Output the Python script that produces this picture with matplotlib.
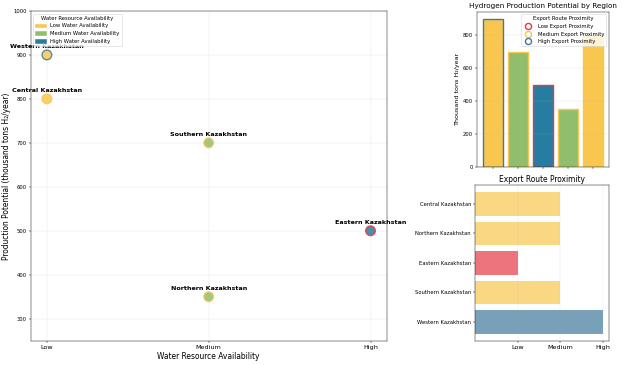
"""Kazakhstan hydrogen potential: water vs production, bars, export proximity."""
import matplotlib
matplotlib.use("Agg")
import matplotlib.pyplot as plt
from matplotlib.lines import Line2D
from matplotlib.patches import Patch

regions = ["Western Kazakhstan", "Southern Kazakhstan", "Eastern Kazakhstan",
           "Northern Kazakhstan", "Central Kazakhstan"]
production = [900, 700, 500, 350, 800]          # thousand tons H2/year
water = ["Low", "Medium", "High", "Medium", "Low"]
export = ["High", "Medium", "Low", "Medium", "Medium"]

levels = ["Low", "Medium", "High"]
_WATER_C = {"Low": "#F9C74F", "Medium": "#90BE6D", "High": "#277DA1"}
_EXPORT_C = {"Low": "#E63946", "Medium": "#F9C74F", "High": "#3F7A9C"}

DPI = 40
fig = plt.figure(figsize=(623 / DPI, 365 / DPI), dpi=DPI)

# --- main scatter: water availability vs production ----------------------
ax = fig.add_axes([0.0493, 0.0666, 0.5714, 0.9034])
wx = [levels.index(w) for w in water]
ax.scatter(wx, production, s=300, c=[_WATER_C[w] for w in water],
           edgecolors=[_EXPORT_C[e] for e in export], linewidths=2.5,
           alpha=0.85, zorder=3)
for name, x, y in zip(regions, wx, production):
    ax.annotate(name, (x, y), xytext=(0, 10), textcoords="offset points",
                ha="center", va="bottom", fontsize=11.5, fontweight="bold",
                annotation_clip=False, zorder=4)
ax.set_xlim(-0.1, 2.1)
ax.set_ylim(250, 1000)
ax.set_xticks(range(3))
ax.set_xticklabels(levels, fontsize=11.5)
ax.tick_params(axis="y", labelsize=9.5)
ax.set_xlabel("Water Resource Availability", fontsize=13.5)
ax.set_ylabel("Production Potential (thousand tons H₂/year)", fontsize=13.5)
ax.grid(True, alpha=0.3)
handles = [Patch(color=_WATER_C[l], label=f"{l} Water Availability") for l in levels]
leg = ax.legend(handles=handles, title="Water Resource Availability", loc="upper left",
                fontsize=9.5, title_fontsize=9.5)
leg.set_zorder(5)

# --- top right: production bars ----------------------------------------
ax2 = fig.add_axes([0.7652, 0.5433, 0.2123, 0.4247])
ax2.bar(range(len(regions)), production, color=[_WATER_C[w] for w in water],
        edgecolor=[_EXPORT_C[e] for e in export], linewidth=2.5)
ax2.set_xticks(range(len(regions)))
ax2.set_xticklabels([""] * len(regions))
ax2.tick_params(axis="y", labelsize=9.5)
ax2.set_ylabel("Thousand tons H₂/year", fontsize=11.5)
ax2.set_title("Hydrogen Production Potential by Region", fontsize=13)
ax2.grid(True, axis="y", alpha=0.3)
mk = [Line2D([], [], marker="o", linestyle="", markerfacecolor="none",
             markeredgecolor=_EXPORT_C[l], markeredgewidth=2.5, markersize=11,
             label=f"{l} Export Proximity") for l in levels]
ax2.legend(handles=mk, title="Export Route Proximity", loc="upper right",
           fontsize=9.5, title_fontsize=9.5)

# --- bottom right: export proximity --------------------------------------
ax3 = fig.add_axes([0.7624, 0.0666, 0.2156, 0.4266])
ex = [levels.index(e) + 1 for e in export]
ax3.barh(range(len(regions)), ex, color=[_EXPORT_C[e] for e in export], alpha=0.7)
ax3.set_yticks(range(len(regions)))
ax3.set_yticklabels(regions, fontsize=9.5)
ax3.set_xticks([1, 2, 3])
ax3.set_xticklabels(levels, fontsize=11.5)
ax3.set_title("Export Route Proximity", fontsize=13.5)
ax3.grid(True, axis="x", alpha=0.3)

fig.savefig("out.png", dpi=DPI)
plt.close(fig)
